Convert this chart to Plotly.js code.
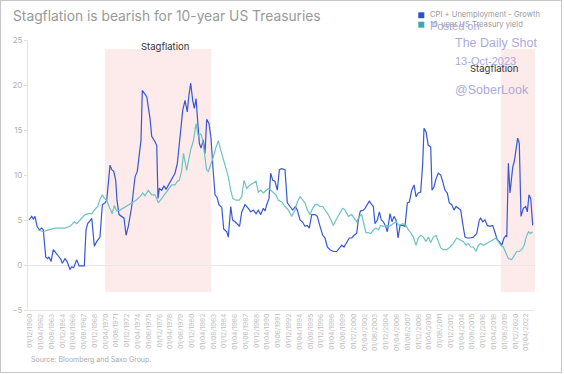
<!DOCTYPE html>
<html><head><meta charset="utf-8">
<script src="https://cdn.plot.ly/plotly-3.0.1.min.js"></script>
<style>
body{margin:0;background:#fff}
#chart{width:564px;height:374px}
#frame{position:absolute;left:0;top:0;width:560px;height:371px;border:1px solid #c6c6c6;pointer-events:none}
</style>
</head><body><div id="chart"></div><div id="frame"></div>
<script>
const seriesNames = ["CPI + Unemployment - Growth", "10-year US Treasury yield"];
const blueX = [1960.80,1961.13,1961.33,1961.54,1961.79,1962.07,1962.37,1962.56,1962.86,1963.11,
1963.27,1963.52,1963.80,1964.22,1964.42,1964.75,1964.91,1965.25,1965.49,1965.86,
1966.07,1966.32,1966.69,1966.98,1967.63,1967.84,1968.05,1968.34,1968.55,1968.87,
1969.16,1969.57,1969.86,1970.19,1970.40,1970.60,1970.81,1971.02,1971.27,1971.51,
1971.67,1971.92,1972.26,1972.54,1972.79,1973.07,1973.49,1973.90,1974.18,1974.43,
1974.64,1974.80,1975.13,1975.35,1975.75,1975.96,1976.37,1976.58,1976.74,1976.90,
1977.20,1977.48,1977.73,1978.02,1978.44,1978.84,1979.13,1979.46,1979.80,1980.08,
1980.36,1980.54,1980.78,1981.03,1981.23,1981.44,1981.65,1981.85,1982.06,1982.34,
1982.55,1982.76,1983.05,1983.29,1983.54,1983.79,1984.04,1984.28,1984.62,1984.86,
1985.23,1985.43,1985.73,1985.95,1986.26,1986.59,1986.82,1987.09,1987.50,1987.90,
1988.20,1988.52,1988.86,1989.14,1989.44,1989.76,1989.97,1990.18,1990.46,1990.67,
1990.92,1991.20,1991.49,1991.74,1992.03,1992.44,1992.72,1993.06,1993.39,1993.71,
1993.96,1994.29,1994.58,1994.91,1995.20,1995.44,1995.74,1996.15,1996.43,1996.77,
1997.10,1997.39,1997.67,1998.00,1998.41,1998.83,1999.15,1999.45,1999.73,2000.07,
2000.39,2000.69,2000.97,2001.30,2001.50,2001.75,2002.12,2002.33,2002.62,2002.86,
2003.16,2003.36,2003.56,2003.85,2004.10,2004.34,2004.59,2004.84,2005.09,2005.42,
2005.67,2005.91,2006.16,2006.41,2006.66,2006.99,2007.27,2007.56,2007.81,2008.10,
2008.39,2008.63,2008.92,2009.21,2009.46,2009.62,2009.87,2010.15,2010.45,2010.61,
2010.86,2011.11,2011.39,2011.69,2011.93,2012.22,2012.50,2012.75,2013.05,2013.33,
2013.58,2013.86,2014.16,2014.40,2014.69,2014.97,2015.31,2015.72,2016.14,2016.46,
2016.63,2016.88,2017.16,2017.45,2017.78,2018.11,2018.40,2018.68,2018.93,2019.23,
2019.51,2019.76,2019.85,2020.05,2020.25,2020.59,2020.78,2020.99,2021.20,2021.40,
2021.61,2021.90,2022.19,2022.39,2022.60,2022.81,2023.06];
const blueY = [5.0,5.4,5.1,5.4,4.3,3.9,4.1,3.9,0.9,0.7,
0.9,0.4,1.7,1.3,1.0,0.6,0.2,0.7,0.4,-0.5,
-0.2,-0.3,0.6,-0.1,-0.1,3.9,4.6,4.9,5.2,2.1,
2.6,3.1,6.7,6.9,7.2,9.1,11.1,10.6,10.4,9.4,
7.2,5.6,5.4,5.2,3.3,4.3,6.5,9.8,10.4,12.0,
13.9,19.4,18.9,18.7,16.3,14.3,13.7,13.3,7.4,8.5,
8.3,8.8,8.4,8.9,9.6,10.2,11.3,13.9,17.2,18.3,
17.0,18.7,20.2,18.3,17.4,18.5,16.1,13.5,13.0,13.9,
12.4,16.2,15.7,14.1,10.7,7.8,7.5,6.7,6.4,4.0,
3.7,3.1,6.5,5.0,4.8,4.5,4.3,5.9,6.7,6.3,
5.9,6.1,5.7,6.1,5.6,6.3,6.0,6.7,7.4,10.2,
9.4,9.3,8.3,10.6,10.7,10.6,6.9,6.5,6.1,6.5,
6.1,5.0,4.8,4.3,4.4,4.1,5.6,5.6,5.4,4.3,
3.3,3.0,2.0,1.7,1.5,1.5,1.9,2.2,2.0,2.6,
3.0,3.0,3.3,3.5,5.0,6.0,6.1,6.3,6.7,7.1,
6.7,6.5,4.6,5.0,5.9,5.0,4.8,4.4,3.7,5.7,
4.8,5.4,5.0,3.0,4.4,4.4,4.3,6.9,7.0,8.3,
8.9,7.6,8.0,8.1,11.3,15.2,14.8,13.3,13.1,8.3,
8.7,9.6,10.2,10.0,9.3,8.3,8.0,6.9,6.7,6.1,
6.5,6.3,6.1,4.6,3.1,3.0,3.0,3.1,3.5,5.0,
5.2,4.8,5.0,4.4,4.3,4.4,3.5,2.8,2.6,2.2,
3.0,3.3,3.1,11.3,8.0,10.9,11.5,12.6,14.1,13.5,
5.4,6.3,6.5,5.9,7.8,7.4,4.4];
const tealX = [1961.91,1962.56,1963.18,1964.01,1964.63,1965.25,1965.86,1966.40,1966.69,1967.10,
1967.39,1967.72,1968.13,1968.55,1968.95,1969.29,1969.57,1969.86,1970.10,1970.40,
1970.69,1970.93,1971.09,1971.33,1971.64,1972.04,1972.45,1972.86,1973.49,1974.02,
1974.52,1974.85,1975.13,1975.54,1975.96,1976.37,1976.78,1977.20,1977.61,1978.02,
1978.44,1978.84,1979.13,1979.38,1979.67,1979.89,1980.08,1980.29,1980.49,1980.78,
1981.11,1981.44,1981.72,1982.02,1982.27,1982.49,1982.74,1982.96,1983.26,1983.58,
1983.91,1984.20,1984.49,1984.81,1985.15,1985.43,1985.73,1985.98,1986.38,1986.79,
1987.09,1987.37,1987.70,1988.11,1988.52,1988.86,1989.14,1989.44,1989.76,1990.09,
1990.38,1990.67,1991.00,1991.33,1991.61,1992.03,1992.44,1992.85,1993.27,1993.68,
1993.96,1994.29,1994.63,1994.91,1995.20,1995.53,1995.86,1996.15,1996.43,1996.77,
1997.10,1997.39,1997.79,1998.21,1998.41,1998.74,1999.15,1999.57,1999.86,2000.27,
2000.69,2000.97,2001.30,2001.62,2001.92,2002.20,2002.45,2002.74,2003.03,2003.36,
2003.69,2003.97,2004.26,2004.59,2004.92,2005.33,2005.75,2006.16,2006.57,2006.99,
2007.40,2007.68,2007.98,2008.30,2008.63,2008.92,2009.21,2009.54,2009.87,2010.15,
2010.45,2010.77,2011.11,2011.39,2011.69,2012.01,2012.43,2012.84,2013.25,2013.66,
2014.07,2014.48,2014.81,2015.09,2015.39,2015.72,2016.05,2016.34,2016.63,2016.96,
2017.37,2017.78,2018.19,2018.52,2018.81,2019.10,2019.42,2019.76,2020.05,2020.46,
2020.75,2021.08,2021.40,2021.70,2022.00,2022.25,2022.54,2022.81,2023.06];
const tealY = [3.9,3.7,3.9,4.1,4.1,4.1,4.3,4.8,4.6,5.0,
5.2,5.6,5.7,5.7,6.2,6.5,7.3,7.8,7.4,7.2,
6.5,6.0,5.7,6.6,6.0,6.1,6.3,6.5,6.9,7.2,
7.6,8.0,7.7,8.3,7.8,7.8,6.9,7.4,7.9,8.4,
8.9,8.9,9.3,9.4,10.5,12.4,11.3,10.5,11.5,12.8,
13.8,15.7,14.3,14.6,13.9,12.4,10.6,10.4,11.1,12.0,
13.1,13.8,12.8,11.7,10.6,9.8,8.3,7.4,7.2,7.2,
7.6,9.4,8.5,8.9,9.1,9.3,8.1,8.3,8.0,8.3,
8.5,8.3,8.1,7.8,7.2,7.0,6.5,6.1,5.4,6.1,
7.0,7.6,7.2,6.9,6.1,5.6,6.3,6.7,6.7,6.5,
6.5,6.1,5.6,4.8,4.4,5.0,5.7,6.3,6.1,5.4,
5.6,5.2,4.8,5.4,5.6,4.5,3.6,3.6,3.5,3.9,
4.1,3.9,4.4,4.3,4.4,4.3,4.6,4.8,4.4,4.6,
4.4,3.9,3.6,3.1,2.2,3.0,3.3,3.1,2.6,3.1,
2.5,3.1,3.3,2.6,1.9,1.7,1.7,2.0,2.4,3.0,
2.8,2.6,2.2,2.4,2.0,2.0,1.5,2.2,2.4,2.2,
2.4,2.6,2.8,3.0,2.6,2.2,2.0,1.3,0.7,0.6,
1.1,1.5,1.5,1.7,2.2,3.1,3.7,3.5,3.7];
const tickLabels = ["01/12/1960","01/04/1962","01/08/1963","01/12/1964","01/04/1966","01/08/1967","01/12/1968","01/04/1970","01/08/1971","01/12/1972","01/04/1974","01/08/1975","01/12/1976","01/04/1978","01/08/1979","01/12/1980","01/04/1982","01/08/1983","01/12/1984","01/04/1986","01/08/1987","01/12/1988","01/04/1990","01/08/1991","01/12/1992","01/04/1994","01/08/1995","01/12/1996","01/04/1998","01/08/1999","01/12/2000","01/04/2002","01/08/2003","01/12/2004","01/04/2006","01/08/2007","01/12/2008","01/04/2010","01/08/2011","01/12/2012","01/04/2014","01/08/2015","01/12/2016","01/04/2018","01/08/2019","01/12/2020","01/04/2022"];
const stagStart = [1970.19, 2019.14];
const stagEnd = [1983.29, 2023.34];
const stagLabelX = [1977.61, 2018.28];
const stagLabelY = [24.3, 21.8];

const tickVals = tickLabels.map(s => { const p = s.split('/'); return +p[2] + (+p[1] - 1) / 12; });
const FONT = 'Inter, "Noto Sans", sans-serif';
const blueC = '#3757d6', tealC = '#6cc3c0';

const traces = [
  {x: blueX, y: blueY, type: 'scatter', mode: 'lines', name: seriesNames[0], line: {color: blueC, width: 1.2}},
  {x: tealX, y: tealY, type: 'scatter', mode: 'lines', name: seriesNames[1], line: {color: tealC, width: 1.2}}
];

const shapes = stagStart.map((s, i) => ({type: 'rect', xref: 'x', yref: 'y', x0: s, x1: stagEnd[i], y0: -3, y1: 24, fillcolor: '#fdeaea', line: {width: 0}, layer: 'below'}));
shapes.push({type: 'rect', xref: 'paper', yref: 'paper', x0: 0.7698, x1: 0.7817, y0: 1.0807, y1: 1.1026, fillcolor: '#2f4fd0', line: {width: 0}});
shapes.push({type: 'rect', xref: 'paper', yref: 'paper', x0: 0.7698, x1: 0.7817, y0: 1.0456, y1: 1.0678, fillcolor: '#3ea9aa', line: {width: 0}});

const wm = '#ababd9';
const annotations = [
  ...stagLabelX.map((x, i) => ({x: x, y: stagLabelY[i], xref: 'x', yref: 'y', text: 'Stagflation', showarrow: false, font: {family: FONT, size: 9.5, color: '#333'}})),
  {x: 0.7884, y: 1.0926, xref: 'paper', yref: 'paper', xanchor: 'left', yanchor: 'middle', text: seriesNames[0], showarrow: false, font: {family: FONT, size: 7.6, color: '#999'}},
  {x: 0.7884, y: 1.0556, xref: 'paper', yref: 'paper', xanchor: 'left', yanchor: 'middle', text: seriesNames[1], showarrow: false, font: {family: FONT, size: 7.6, color: '#999'}},
  {x: 0.7884, y: 1.0519, xref: 'paper', yref: 'paper', xanchor: 'left', yanchor: 'middle', text: 'Posted on', showarrow: false, font: {family: 'Liberation Sans, Arial, sans-serif', size: 11, color: wm}},
  {x: 0.8377, y: 0.9889, xref: 'paper', yref: 'paper', xanchor: 'left', yanchor: 'middle', text: 'The Daily Shot', showarrow: false, font: {family: 'Liberation Sans, Arial, sans-serif', size: 12.5, color: wm}},
  {x: 0.8377, y: 0.9222, xref: 'paper', yref: 'paper', xanchor: 'left', yanchor: 'middle', text: '13-Oct-2023', showarrow: false, font: {family: 'Liberation Sans, Arial, sans-serif', size: 11, color: wm}},
  {x: 0.8377, y: 0.8148, xref: 'paper', yref: 'paper', xanchor: 'left', yanchor: 'middle', text: '@SoberLook', showarrow: false, font: {family: 'Liberation Sans, Arial, sans-serif', size: 12.5, color: wm}},
  {x: 0.002, y: -0.185, xref: 'paper', yref: 'paper', xanchor: 'left', yanchor: 'middle', text: 'Source: Bloomberg and Saxo Group.', showarrow: false, font: {family: FONT, size: 7, color: '#aaa'}}
];

const layout = {
  width: 564, height: 374,
  margin: {l: 28, r: 29, t: 40, b: 64, pad: 0},
  paper_bgcolor: '#fff', plot_bgcolor: '#fff',
  showlegend: false,
  title: {text: 'Stagflation is bearish for 10-year US Treasuries', xref: 'container', yref: 'container', x: 0.023, xanchor: 'left', y: 0.957, yanchor: 'middle', font: {family: FONT, size: 13.8, color: '#999'}},
  xaxis: {range: [1960.67, 2023.34], tickmode: 'array', tickvals: tickVals, ticktext: tickLabels, tickangle: -90, tickfont: {family: FONT, size: 6.8, color: '#bcbcbc'}, showgrid: false, zeroline: false, showline: true, linecolor: '#e6e6e6', linewidth: 1, ticks: ''},
  yaxis: {range: [-5, 25], dtick: 5, tick0: 0, tickfont: {family: FONT, size: 8, color: '#b0b0b0'}, ticks: 'outside', ticklen: 3, tickcolor: '#ddd', showline: true, linecolor: '#e6e6e6', linewidth: 1, showgrid: false, zeroline: true, zerolinecolor: '#e8e8e8', zerolinewidth: 1},
  shapes: shapes,
  annotations: annotations
};

Plotly.newPlot('chart', traces, layout, {displayModeBar: false, staticPlot: true});
</script>
</body></html>
